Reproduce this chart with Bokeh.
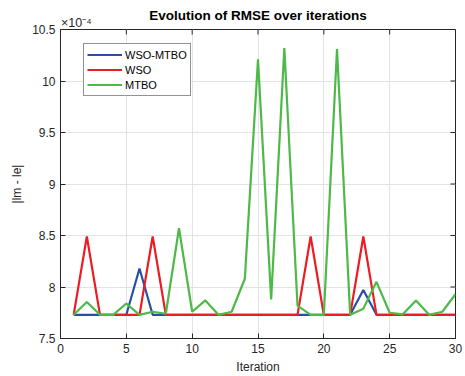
import math
from bokeh.plotting import figure
from bokeh.models import (FixedTicker, Legend, LegendItem, Range1d, LinearAxis)
from bokeh.embed import file_html
from bokeh.resources import INLINE

# Data (values in units of 1e-4)
iterations = list(range(1, 31))
wso_mtbo = [7.73, 7.73, 7.73, 7.73, 7.73, 8.18, 7.73, 7.73, 7.73, 7.73,
            7.73, 7.73, 7.73, 7.73, 7.73, 7.73, 7.73, 7.73, 7.73, 7.73,
            7.73, 7.73, 7.97, 7.73, 7.73, 7.73, 7.73, 7.73, 7.73, 7.73]
wso = [7.73, 8.49, 7.73, 7.73, 7.73, 7.73, 8.49, 7.73, 7.73, 7.73,
       7.73, 7.73, 7.73, 7.73, 7.73, 7.73, 7.73, 7.73, 8.49, 7.73,
       7.73, 7.73, 8.49, 7.73, 7.73, 7.73, 7.73, 7.73, 7.73, 7.73]
mtbo = [7.73, 7.855, 7.73, 7.73, 7.84, 7.73, 7.76, 7.74, 8.57, 7.76,
        7.87, 7.73, 7.76, 8.08, 10.21, 7.88, 10.32, 7.82, 7.73, 7.73,
        10.31, 7.73, 7.79, 8.05, 7.75, 7.735, 7.87, 7.73, 7.76, 7.93]
x_ticks = [0, 5, 10, 15, 20, 25, 30]
y_ticks = [7.5, 8, 8.5, 9, 9.5, 10, 10.5]
y_tick_labels = ["7.5", "8", "8.5", "9", "9.5", "10", "10.5"]
series_names = ["WSO-MTBO", "WSO", "MTBO"]
series_colors = ["#2a4ea6", "#ec1c24", "#4db947"]
title_text = "Evolution of RMSE over iterations"
exponent_text = "×10⁻⁴"
x_min, x_max = 0, 30
y_min, y_max = 7.5, 10.5

FONT = "Liberation Sans"
AX = "#262626"

p = figure(width=465, height=376, output_backend="svg", toolbar_location=None,
           title=None,
           x_range=Range1d(x_min, x_max), y_range=Range1d(y_min, y_max),
           min_border_left=60, min_border_right=10, min_border_top=29, min_border_bottom=34,
           background_fill_color="white", border_fill_color="white")

p.outline_line_color = AX
p.outline_line_width = 1

def style_axis(ax):
    ax.major_tick_in = 5
    ax.major_tick_out = 0
    ax.minor_tick_in = 0
    ax.minor_tick_out = 0
    ax.axis_line_color = AX
    ax.major_tick_line_color = AX
    ax.major_label_text_font = FONT
    ax.major_label_text_font_size = "12px"
    ax.major_label_text_color = AX
    ax.axis_label_text_font = FONT
    ax.axis_label_text_font_size = "12px"
    ax.axis_label_text_color = AX
    ax.axis_label_text_font_style = "normal"

xa = p.xaxis[0]
xa.ticker = FixedTicker(ticks=x_ticks)
xa.axis_label = "Iteration"
xa.axis_label_standoff = 4
style_axis(xa)

ya = p.yaxis[0]
ya.ticker = FixedTicker(ticks=y_ticks)
ya.major_label_overrides = {t: l for t, l in zip(y_ticks, y_tick_labels)}
ya.axis_label = "|lm - le|"
ya.axis_label_standoff = 5
style_axis(ya)

# top band: exponent multiplier (top-left, MATLAB style) and the chart title
exp_pos = 1.2
top = LinearAxis(ticker=FixedTicker(ticks=[exp_pos]))
style_axis(top)
top.major_tick_in = 0
top.axis_line_color = None
top.major_tick_line_color = None
top.major_label_standoff = 0
top.major_label_text_font_size = "12.5px"
top.major_label_overrides = {exp_pos: exponent_text}
top.axis_label = title_text
top.axis_label_text_font_size = "13.5px"
top.axis_label_text_font_style = "bold"
top.axis_label_text_color = "#000000"
top.axis_label_standoff = -10
p.add_layout(top, "above")

# inward ticks on top and right edges (box style)
p.ray(x=x_ticks, y=[y_max] * len(x_ticks), length=5, length_units="screen",
      angle=-math.pi / 2, line_color=AX, line_width=1)
p.ray(x=[x_max] * len(y_ticks), y=y_ticks, length=5, length_units="screen",
      angle=math.pi, line_color=AX, line_width=1)

p.xgrid.ticker = FixedTicker(ticks=x_ticks)
p.ygrid.ticker = FixedTicker(ticks=y_ticks)
p.grid.grid_line_color = "#e3e3e3"
p.grid.grid_line_width = 1

renderers = []
for ys, c in zip([wso_mtbo, wso, mtbo], series_colors):
    r = p.line(iterations, ys, line_color=c, line_width=2.2)
    renderers.append(r)

legend = Legend(items=[LegendItem(label=n, renderers=[r]) for n, r in zip(series_names, renderers)],
                location=(23, 242))
legend.label_text_font = FONT
legend.label_text_font_size = "11px"
legend.label_text_color = "#000000"
legend.glyph_width = 35
legend.glyph_height = 15
legend.label_height = 15
legend.spacing = 0
legend.padding = 3
legend.margin = 0
legend.label_standoff = 3
legend.border_line_color = AX
legend.border_line_width = 1
legend.background_fill_alpha = 1
p.add_layout(legend, "center")

open("out.html", "w").write(file_html(p, INLINE))
